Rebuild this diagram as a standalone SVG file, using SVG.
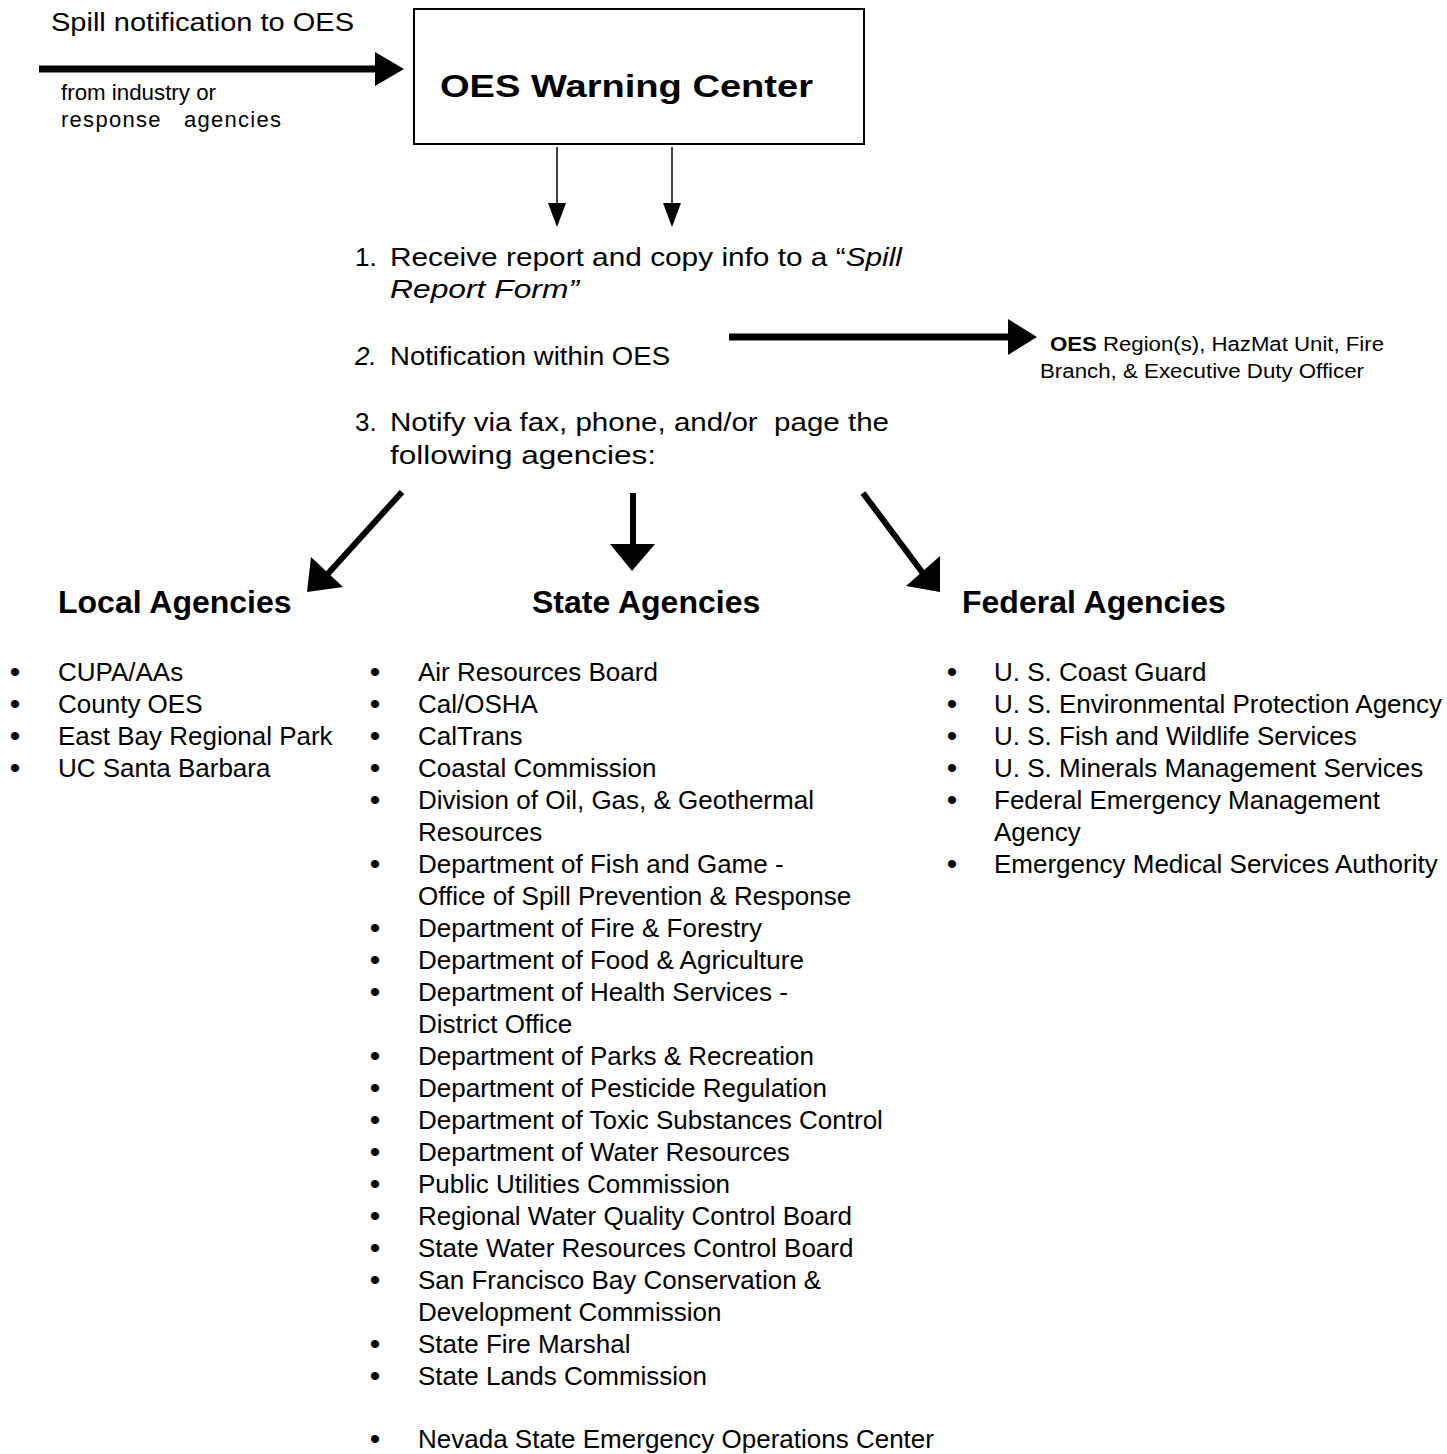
<svg xmlns="http://www.w3.org/2000/svg" width="1447" height="1454" viewBox="0 0 1447 1454">
<style>
text{font-family:"Liberation Sans",Arial,sans-serif;fill:#000}
.t26{font-size:26px}
.t22{font-size:22px}
.t20{font-size:20px}
.h{font-size:32px;font-weight:bold}
.li{font-size:26px}
.bu{font-size:30px;text-anchor:middle}
.thick{stroke:#000;stroke-width:7;fill:none}
.med{stroke:#000;stroke-width:6;fill:none}
.thin{stroke:#000;stroke-width:1.5;fill:none}
.head{fill:#000}
</style>
<rect width="1447" height="1454" fill="#fff"/>
<g id="connectors">
<line class="thick" x1="39" y1="69" x2="378" y2="69"/>
<polygon class="head" points="375,52 404,69 375,86"/>
<line class="thin" x1="557" y1="147" x2="557" y2="206"/>
<polygon class="head" points="548,203 566,203 557,227"/>
<line class="thin" x1="672" y1="147" x2="672" y2="206"/>
<polygon class="head" points="663,203 681,203 672,227"/>
<line class="thick" x1="729" y1="337" x2="1011" y2="337"/>
<polygon class="head" points="1008,319 1037,337 1008,355"/>
<line class="med" x1="402" y1="492" x2="324" y2="578"/>
<polygon class="head" points="307,592 311,557 343,587"/>
<line class="med" x1="633" y1="493" x2="633" y2="548"/>
<polygon class="head" points="610,544 655,544 632,571"/>
<line class="med" x1="863" y1="493" x2="925" y2="576"/>
<polygon class="head" points="940,592 940,556 906,586"/>
</g>
<g id="input">
<text class="t26" x="51" y="31" textLength="303" lengthAdjust="spacingAndGlyphs">Spill notification to OES</text>
<text class="t22" x="61" y="100" textLength="155" lengthAdjust="spacingAndGlyphs">from industry or</text>
<text class="t22" x="61" y="127" xml:space="preserve" textLength="220" lengthAdjust="spacing">response   agencies</text>
</g>
<g id="warning-center">
<rect x="414" y="9" width="450" height="135" fill="#fff" stroke="#000" stroke-width="2"/>
<text x="440" y="97" style="font-size:31px;font-weight:bold" textLength="373" lengthAdjust="spacingAndGlyphs">OES Warning Center</text>
</g>
<g id="steps">
<text class="t26" x="355" y="266">1.</text>
<text class="t26" x="390" y="266" textLength="512" lengthAdjust="spacingAndGlyphs">Receive report and copy info to a “<tspan font-style="italic">Spill</tspan></text>
<text class="t26" x="390" y="298" font-style="italic" textLength="189" lengthAdjust="spacingAndGlyphs">Report Form”</text>
<text class="t26" x="355" y="365" font-style="italic">2.</text>
<text class="t26" x="390" y="365" textLength="280" lengthAdjust="spacingAndGlyphs">Notification within OES</text>
<text class="t26" x="355" y="431">3.</text>
<text class="t26" x="390" y="431" xml:space="preserve" textLength="499" lengthAdjust="spacingAndGlyphs">Notify via fax, phone, and/or  page the</text>
<text class="t26" x="390" y="464" textLength="266" lengthAdjust="spacingAndGlyphs">following agencies:</text>
</g>
<g id="oes-internal">
<text class="t20" x="1050" y="351" textLength="334" lengthAdjust="spacingAndGlyphs"><tspan font-weight="bold">OES</tspan> Region(s), HazMat Unit, Fire</text>
<text class="t20" x="1040" y="378" textLength="324" lengthAdjust="spacingAndGlyphs">Branch, &amp; Executive Duty Officer</text>
</g>
<g id="local-agencies">
<text class="h" x="58" y="613">Local Agencies</text>
<text class="bu" x="15" y="682">•</text><text class="li" x="58" y="681">CUPA/AAs</text>
<text class="bu" x="15" y="714">•</text><text class="li" x="58" y="713">County OES</text>
<text class="bu" x="15" y="746">•</text><text class="li" x="58" y="745">East Bay Regional Park</text>
<text class="bu" x="15" y="778">•</text><text class="li" x="58" y="777">UC Santa Barbara</text>
</g>
<g id="state-agencies">
<text class="h" x="532" y="613">State Agencies</text>
<text class="bu" x="375" y="682">•</text><text class="li" x="418" y="681">Air Resources Board</text>
<text class="bu" x="375" y="714">•</text><text class="li" x="418" y="713">Cal/OSHA</text>
<text class="bu" x="375" y="746">•</text><text class="li" x="418" y="745">CalTrans</text>
<text class="bu" x="375" y="778">•</text><text class="li" x="418" y="777">Coastal Commission</text>
<text class="bu" x="375" y="810">•</text><text class="li" x="418" y="809">Division of Oil, Gas, &amp; Geothermal</text>
<text class="li" x="418" y="841">Resources</text>
<text class="bu" x="375" y="874">•</text><text class="li" x="418" y="873">Department of Fish and Game -</text>
<text class="li" x="418" y="905">Office of Spill Prevention &amp; Response</text>
<text class="bu" x="375" y="938">•</text><text class="li" x="418" y="937">Department of Fire &amp; Forestry</text>
<text class="bu" x="375" y="970">•</text><text class="li" x="418" y="969">Department of Food &amp; Agriculture</text>
<text class="bu" x="375" y="1002">•</text><text class="li" x="418" y="1001">Department of Health Services -</text>
<text class="li" x="418" y="1033">District Office</text>
<text class="bu" x="375" y="1066">•</text><text class="li" x="418" y="1065">Department of Parks &amp; Recreation</text>
<text class="bu" x="375" y="1098">•</text><text class="li" x="418" y="1097">Department of Pesticide Regulation</text>
<text class="bu" x="375" y="1130">•</text><text class="li" x="418" y="1129">Department of Toxic Substances Control</text>
<text class="bu" x="375" y="1162">•</text><text class="li" x="418" y="1161">Department of Water Resources</text>
<text class="bu" x="375" y="1194">•</text><text class="li" x="418" y="1193">Public Utilities Commission</text>
<text class="bu" x="375" y="1226">•</text><text class="li" x="418" y="1225">Regional Water Quality Control Board</text>
<text class="bu" x="375" y="1258">•</text><text class="li" x="418" y="1257">State Water Resources Control Board</text>
<text class="bu" x="375" y="1290">•</text><text class="li" x="418" y="1289">San Francisco Bay Conservation &amp;</text>
<text class="li" x="418" y="1321">Development Commission</text>
<text class="bu" x="375" y="1354">•</text><text class="li" x="418" y="1353">State Fire Marshal</text>
<text class="bu" x="375" y="1386">•</text><text class="li" x="418" y="1385">State Lands Commission</text>
<text class="bu" x="375" y="1449">•</text><text class="li" x="418" y="1448">Nevada State Emergency Operations Center</text>
</g>
<g id="federal-agencies">
<text class="h" x="962" y="613">Federal Agencies</text>
<text class="bu" x="952" y="682">•</text><text class="li" x="994" y="681">U. S. Coast Guard</text>
<text class="bu" x="952" y="714">•</text><text class="li" x="994" y="713">U. S. Environmental Protection Agency</text>
<text class="bu" x="952" y="746">•</text><text class="li" x="994" y="745">U. S. Fish and Wildlife Services</text>
<text class="bu" x="952" y="778">•</text><text class="li" x="994" y="777">U. S. Minerals Management Services</text>
<text class="bu" x="952" y="810">•</text><text class="li" x="994" y="809">Federal Emergency Management</text>
<text class="li" x="994" y="841">Agency</text>
<text class="bu" x="952" y="874">•</text><text class="li" x="994" y="873">Emergency Medical Services Authority</text>
</g>
</svg>
